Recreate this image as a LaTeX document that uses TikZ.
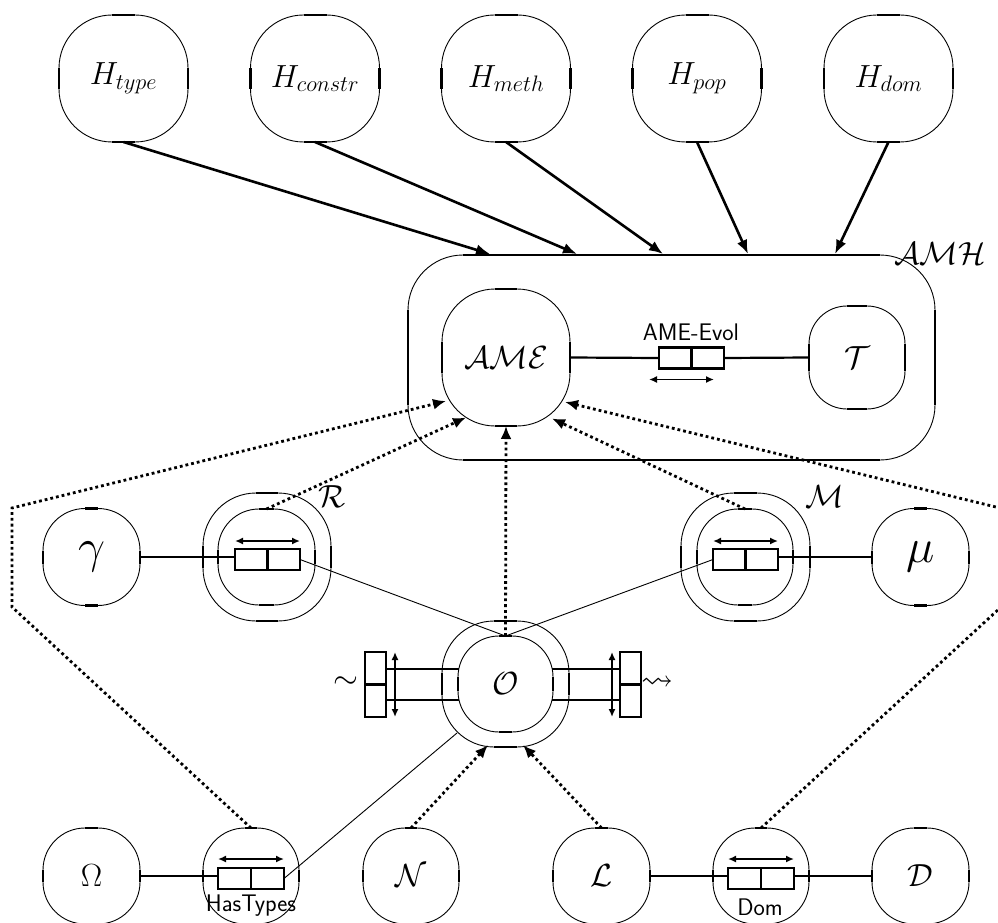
\RequirePackage{fix-cm}
\documentclass[tikz,border=0pt]{standalone}
\usepackage{amssymb}
\usetikzlibrary{arrows.meta}
\tikzset{
  blob/.style args={#1/#2/#3}{draw, line width=0.9pt, rectangle, rounded corners=#3pt,
    minimum width=#1pt, minimum height=#2pt, inner sep=0pt, outer sep=0pt},
  side/.style={line width=2.8pt},
}
\newcommand\blobsides[2]{\draw[side]
  ([xshift=#2pt]#1.north west) -- ([xshift=-#2pt]#1.north east)
  ([xshift=#2pt]#1.south west) -- ([xshift=-#2pt]#1.south east)
  ([yshift=-#2pt]#1.north west) -- ([yshift=#2pt]#1.south west)
  ([yshift=-#2pt]#1.north east) -- ([yshift=#2pt]#1.south east);}
\newcommand\blob[7]{\node[blob=#4/#5/#6] (#1) at (#2,#3) {#7};\blobsides{#1}{#6}}
\begin{document}
\begin{tikzpicture}[x=1pt,y=-1pt,
  every node/.style={font=\fontsize{32}{38}\selectfont},
  conn/.style={line width=2.2pt},
  thinl/.style={line width=0.9pt},
  harrow/.style={line width=2.6pt,-{Latex[length=14pt,width=11pt]}},
  darrow/.style={line width=2.8pt,dash pattern=on 2.8pt off 3pt,-{Latex[length=13pt,width=11pt]}},
  cell/.style={draw,line width=2.2pt,inner sep=0pt,outer sep=0pt},
  boxline/.style={line width=2.2pt},
  dbl/.style={line width=1.8pt,{Latex[length=8pt,width=7pt]}-{Latex[length=8pt,width=7pt]}},
  lab/.style={font=\sffamily\fontsize{24}{28}\selectfont, inner sep=0pt},
]
\fill[white] (0,0) rectangle (998,923);
\useasboundingbox (0,0) rectangle (998,923);

% top row
\blob{Htype}{123.5}{78.5}{129}{127}{53}{$H_{type}$}
\blob{Hconstr}{315}{78.5}{129}{127}{53}{$H_{constr}$}
\blob{Hmeth}{506}{78.5}{129}{127}{53}{$H_{meth}$}
\blob{Hpop}{697}{78.5}{129}{127}{53}{$H_{pop}$}
\blob{Hdom}{888.5}{78.5}{129}{127}{53}{$H_{dom}$}

% AMH container
\blob{AMH}{671.5}{357.5}{527}{205}{55}{}
\node (AMHlab) at (940,254) {$\mathcal{AMH}$};
\blob{AME}{506}{357.5}{128}{137}{53}{$\mathcal{AME}$}
\blob{T}{857}{357.5}{96}{103}{38}{$\mathcal{T}$}
\node[cell, minimum width=65pt, minimum height=21pt] (ebox) at (691.5,358) {};
\draw[boxline] (ebox.north) -- (ebox.south);
\node[lab] (elab) at (691,332) {AME-Evol};
\draw[dbl] ([xshift=-10pt,yshift=-11pt]ebox.south west) -- ([xshift=-10pt,yshift=-11pt]ebox.south east);
\draw[conn] (AME.east) -- (ebox.west);
\draw[conn] (ebox.east) -- (T.west);

\coordinate (t1) at (490,254);
\coordinate (t2) at (577,254);
\coordinate (t3) at (663,254);
\coordinate (t4) at (748,254);
\coordinate (t5) at (835,254);
\draw[harrow] (Htype.south) -- (t1);
\draw[harrow] (Hconstr.south) -- (t2);
\draw[harrow] (Hmeth.south) -- (t3);
\draw[harrow] (Hpop.south) -- (t4);
\draw[harrow] (Hdom.south) -- (t5);

% middle row
\blob{gamma}{91.5}{557}{97}{97}{42}{\fontsize{48}{56}\selectfont$\gamma$}
\blob{Rout}{267}{557}{128}{128}{53}{}
\blob{Rin}{266.5}{557}{97}{96}{41}{}
\node[cell, minimum width=65pt, minimum height=21pt] (rbox) at (267.5,559.5) {};
\draw[boxline] (rbox.north) -- (rbox.south);
\draw[dbl] ([yshift=8pt]rbox.north west) -- ([yshift=8pt]rbox.north east);
\node (Rlab) at (332,497) {$\mathcal{R}$};
\draw[conn] (gamma.east) -- (gamma.east -| rbox.west);

\blob{Mout}{745.5}{557}{129}{128}{53}{}
\blob{Min}{745}{557}{96}{96}{41}{}
\node[cell, minimum width=65pt, minimum height=21pt] (mbox) at (745.5,559.5) {};
\draw[boxline] (mbox.north) -- (mbox.south);
\draw[dbl] ([yshift=8pt]mbox.north west) -- ([yshift=8pt]mbox.north east);
\node (Mlab) at (825,497) {$\mathcal{M}$};
\blob{mu}{920.5}{557}{97}{97}{42}{\fontsize{48}{56}\selectfont$\mu$}
\draw[conn] (mu.west) -- (mu.west -| mbox.east);

% O
\blob{Oout}{505.5}{684}{127}{126}{52}{}
\blob{Oin}{505.5}{684}{95}{96}{41}{$\mathcal{O}$}
\node[cell, minimum width=21pt, minimum height=65pt] (lbox) at (375.5,684.5) {};
\draw[boxline] (lbox.west) -- (lbox.east);
\node[cell, minimum width=21pt, minimum height=65pt] (qbox) at (630.5,684.5) {};
\draw[boxline] (qbox.west) -- (qbox.east);
\coordinate (ol1) at (459,669);
\coordinate (ol2) at (459,700);
\coordinate (or1) at (552,669);
\coordinate (or2) at (552,700);
\draw[conn] (ol1 -| lbox.east) -- (ol1);
\draw[conn] (ol2 -| lbox.east) -- (ol2);
\draw[conn] (or1) -- (or1 -| qbox.west);
\draw[conn] (or2) -- (or2 -| qbox.west);
\draw[dbl] ([xshift=9pt]lbox.north east) -- ([xshift=9pt]lbox.south east);
\draw[dbl] ([xshift=-8pt]qbox.north west) -- ([xshift=-8pt]qbox.south west);
\node (tilde) at (346,683) {$\sim$};
\node[font=\fontsize{32}{38}\selectfont] (squig) at (657,683) {$\rightsquigarrow$};

\draw[thinl] (rbox.east) -- (Oin.north);
\draw[thinl] (mbox.west) -- (Oin.north);

% bottom row
\blob{Omega}{91.5}{876}{97}{96}{42}{$\Omega$}
\blob{ht}{251}{876}{96}{96}{42}{}
\node[cell, minimum width=66pt, minimum height=21pt] (htbox) at (251,878.5) {};
\draw[boxline] (htbox.north) -- (htbox.south);
\draw[dbl] ([yshift=9pt]htbox.north west) -- ([yshift=9pt]htbox.north east);
\node[lab] (htlab) at (251,906) {HasTypes};
\blob{N}{411}{876}{96}{96}{42}{$\mathcal{N}$}
\blob{L}{601.5}{876}{97}{96}{42}{$\mathcal{L}$}
\blob{dom}{761}{876}{96}{96}{42}{}
\node[cell, minimum width=66pt, minimum height=21pt] (dombox) at (761,878.5) {};
\draw[boxline] (dombox.north) -- (dombox.south);
\draw[dbl] ([yshift=9pt]dombox.north west) -- ([yshift=9pt]dombox.north east);
\node[lab] (domlab) at (760,907) {Dom};
\blob{D}{920.5}{876}{97}{96}{42}{$\mathcal{D}$}

\draw[conn] (Omega.east) -- (Omega.east -| htbox.west);
\draw[conn] (L.east) -- (L.east -| dombox.west);
\draw[conn] (D.west) -- (D.west -| dombox.east);
\coordinate (osw) at (457,733);
\draw[thinl] (htbox.east) -- (osw);

% dotted arrows
\coordinate (lc1) at (12,508);
\coordinate (lc2) at (12,607);
\coordinate (rc1) at (1000,508);
\coordinate (rc2) at (1000,608);
\coordinate (ame1) at (446,401);
\coordinate (ame2) at (466,417.5);
\coordinate (ame4) at (552,418.5);
\coordinate (ame5) at (565,402);
\coordinate (ob1) at (488,745);
\coordinate (ob2) at (523,745);
\draw[darrow] (ht.north) -- (lc2) -- (lc1) -- (ame1);
\draw[darrow] (Rin.north) -- (ame2);
\draw[darrow] (Oin.north) -- (AME.south);
\draw[darrow] (Min.north) -- (ame4);
\draw[darrow] (dom.north) -- (rc2) -- (rc1) -- (ame5);
\draw[darrow] (N.north) -- (ob1);
\draw[darrow] (L.north) -- (ob2);
\end{tikzpicture}
\end{document}
